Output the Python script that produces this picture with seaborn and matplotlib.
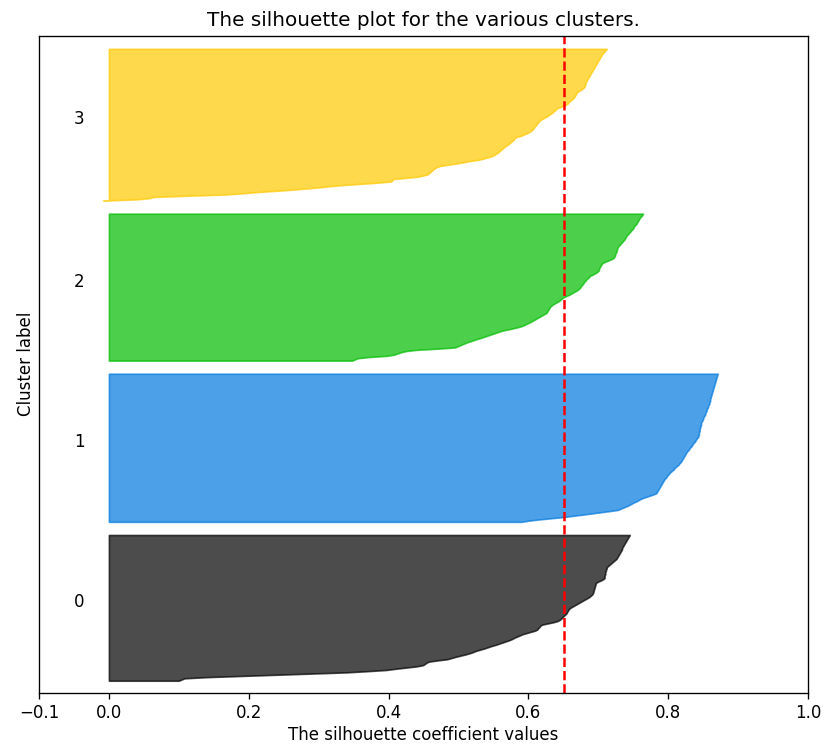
import numpy as np
import matplotlib
matplotlib.use("Agg")
import matplotlib.pyplot as plt
from matplotlib import cm
import seaborn as sns

# Sorted silhouette coefficients per cluster (ascending)
cluster_0 = [
    0.100, 0.104, 0.108, 0.140, 0.190, 0.240, 0.290, 0.340, 0.370, 0.397,
    0.410, 0.425, 0.440, 0.449, 0.452, 0.454, 0.458, 0.470, 0.484, 0.490,
    0.496, 0.503, 0.510, 0.516, 0.521, 0.525, 0.531, 0.537, 0.542, 0.547,
    0.553, 0.558, 0.563, 0.568, 0.573, 0.577, 0.580, 0.584, 0.588, 0.592,
    0.598, 0.604, 0.610, 0.613, 0.614, 0.616, 0.617, 0.620, 0.628, 0.636,
    0.642, 0.645, 0.647, 0.649, 0.650, 0.652, 0.654, 0.655, 0.656, 0.657,
    0.658, 0.660, 0.663, 0.666, 0.669, 0.672, 0.675, 0.678, 0.681, 0.684,
    0.687, 0.689, 0.691, 0.692, 0.693, 0.693, 0.694, 0.694, 0.695, 0.695,
    0.696, 0.696, 0.697, 0.700, 0.704, 0.707, 0.709, 0.709, 0.709, 0.710,
    0.710, 0.710, 0.711, 0.711, 0.712, 0.712, 0.714, 0.716, 0.718, 0.720,
    0.722, 0.724, 0.726, 0.727, 0.728, 0.729, 0.730, 0.731, 0.732, 0.733,
    0.734, 0.734, 0.735, 0.736, 0.737, 0.738, 0.739, 0.740, 0.741, 0.742,
    0.743, 0.744, 0.745,
]

cluster_1 = [
    0.590, 0.600, 0.615, 0.632, 0.650, 0.663, 0.677, 0.690, 0.703, 0.716,
    0.728, 0.732, 0.736, 0.740, 0.744, 0.747, 0.750, 0.754, 0.757, 0.760,
    0.764, 0.769, 0.774, 0.779, 0.783, 0.784, 0.785, 0.786, 0.787, 0.788,
    0.789, 0.790, 0.791, 0.792, 0.793, 0.794, 0.795, 0.797, 0.798, 0.799,
    0.801, 0.802, 0.804, 0.806, 0.808, 0.809, 0.811, 0.813, 0.815, 0.816,
    0.818, 0.819, 0.820, 0.821, 0.822, 0.823, 0.824, 0.825, 0.826, 0.827,
    0.829, 0.830, 0.831, 0.833, 0.834, 0.835, 0.836, 0.838, 0.839, 0.840,
    0.841, 0.843, 0.843, 0.844, 0.844, 0.844, 0.845, 0.845, 0.845, 0.846,
    0.846, 0.847, 0.847, 0.847, 0.848, 0.849, 0.850, 0.850, 0.851, 0.852,
    0.853, 0.853, 0.854, 0.855, 0.855, 0.856, 0.857, 0.857, 0.858, 0.859,
    0.859, 0.860, 0.860, 0.860, 0.861, 0.861, 0.862, 0.862, 0.863, 0.863,
    0.864, 0.864, 0.865, 0.865, 0.866, 0.866, 0.867, 0.867, 0.868, 0.868,
    0.869, 0.869, 0.870, 0.870, 0.871,
]

cluster_2 = [
    0.348, 0.352, 0.356, 0.372, 0.398, 0.408, 0.413, 0.418, 0.425, 0.440,
    0.470, 0.495, 0.499, 0.503, 0.507, 0.511, 0.516, 0.521, 0.526, 0.532,
    0.537, 0.542, 0.547, 0.552, 0.557, 0.562, 0.570, 0.578, 0.585, 0.591,
    0.595, 0.598, 0.602, 0.605, 0.608, 0.611, 0.614, 0.617, 0.620, 0.623,
    0.626, 0.627, 0.628, 0.629, 0.630, 0.631, 0.633, 0.635, 0.638, 0.641,
    0.644, 0.646, 0.648, 0.650, 0.654, 0.658, 0.661, 0.664, 0.667, 0.670,
    0.672, 0.674, 0.675, 0.676, 0.678, 0.679, 0.680, 0.682, 0.683, 0.685,
    0.687, 0.688, 0.692, 0.695, 0.698, 0.700, 0.701, 0.701, 0.702, 0.703,
    0.704, 0.705, 0.707, 0.711, 0.715, 0.719, 0.722, 0.723, 0.724, 0.724,
    0.725, 0.726, 0.726, 0.727, 0.727, 0.728, 0.729, 0.731, 0.732, 0.734,
    0.735, 0.737, 0.738, 0.739, 0.740, 0.741, 0.743, 0.744, 0.746, 0.747,
    0.749, 0.750, 0.751, 0.752, 0.754, 0.755, 0.756, 0.757, 0.758, 0.759,
    0.760, 0.762, 0.763, 0.764,
]

cluster_3 = [
    -0.008, 0.040, 0.058, 0.064, 0.110, 0.165, 0.190, 0.210, 0.235, 0.260,
    0.280, 0.300, 0.316, 0.335, 0.360, 0.385, 0.404, 0.405, 0.407, 0.425,
    0.442, 0.450, 0.456, 0.458, 0.460, 0.462, 0.464, 0.466, 0.469, 0.474,
    0.485, 0.497, 0.507, 0.515, 0.528, 0.535, 0.541, 0.547, 0.551, 0.553,
    0.556, 0.558, 0.560, 0.562, 0.564, 0.566, 0.568, 0.571, 0.573, 0.575,
    0.577, 0.579, 0.580, 0.582, 0.588, 0.593, 0.596, 0.600, 0.603, 0.605,
    0.607, 0.608, 0.609, 0.611, 0.612, 0.613, 0.615, 0.616, 0.619, 0.622,
    0.625, 0.628, 0.630, 0.633, 0.635, 0.637, 0.639, 0.640, 0.644, 0.649,
    0.653, 0.656, 0.657, 0.659, 0.661, 0.663, 0.665, 0.666, 0.667, 0.668,
    0.669, 0.670, 0.673, 0.676, 0.678, 0.680, 0.681, 0.681, 0.682, 0.682,
    0.683, 0.684, 0.685, 0.686, 0.687, 0.688, 0.689, 0.690, 0.691, 0.692,
    0.693, 0.694, 0.695, 0.696, 0.697, 0.698, 0.699, 0.700, 0.701, 0.702,
    0.703, 0.704, 0.705, 0.706, 0.708, 0.709, 0.711, 0.712,
]

cluster_labels = ["0", "1", "2", "3"]
silhouette_avg = 0.6505
x_ticks = [-0.1, 0, 0.2, 0.4, 0.6, 0.8, 1]

sns.set_style("ticks", {
    "axes.edgecolor": "black",
    "xtick.color": "black",
    "ytick.color": "black",
    "text.color": "black",
    "axes.labelcolor": "black",
})
plt.rcParams.update({
    "axes.linewidth": 0.96,
    "xtick.major.width": 0.96,
    "xtick.major.size": 4.2,
    "xtick.major.pad": 4.2,
    "axes.titlepad": 7.0,
    "axes.labelpad": 3.0,
})

clusters = [cluster_0, cluster_1, cluster_2, cluster_3]
n_clusters = len(clusters)
n_samples = sum(len(c) for c in clusters)

fig = plt.figure(figsize=(8.24, 7.44), dpi=100)
ax = fig.add_axes([0.0473, 0.069, 0.9333, 0.883])
ax.set_xlim([-0.1, 1])
ax.set_ylim([0, n_samples + (n_clusters + 1) * 10])

y_lower = 10
for i, values in enumerate(clusters):
    vals = np.sort(np.asarray(values))
    size = vals.shape[0]
    y_upper = y_lower + size
    color = cm.nipy_spectral(float(i) / n_clusters)
    ax.fill_betweenx(np.arange(y_lower, y_upper), 0, vals,
                     facecolor=color, edgecolor=color, alpha=0.7,
                     linewidth=1.2)
    # cluster number placed at the middle of its band
    ax.text(-0.05, y_lower + 0.5 * size, cluster_labels[i], fontsize=12)
    y_lower = y_upper + 10

ax.axvline(x=silhouette_avg, color="red", linestyle="--", linewidth=1.8)

ax.set_title("The silhouette plot for the various clusters.", fontsize=14.4)
ax.set_xlabel("The silhouette coefficient values", fontsize=12)
ax.set_ylabel("Cluster label", fontsize=12)
ax.set_yticks([])
ax.set_xticks(x_ticks)
ax.tick_params(axis="x", labelsize=12)
for side in ["top", "right", "left", "bottom"]:
    ax.spines[side].set_visible(True)

fig.savefig("out.png", dpi=100)
